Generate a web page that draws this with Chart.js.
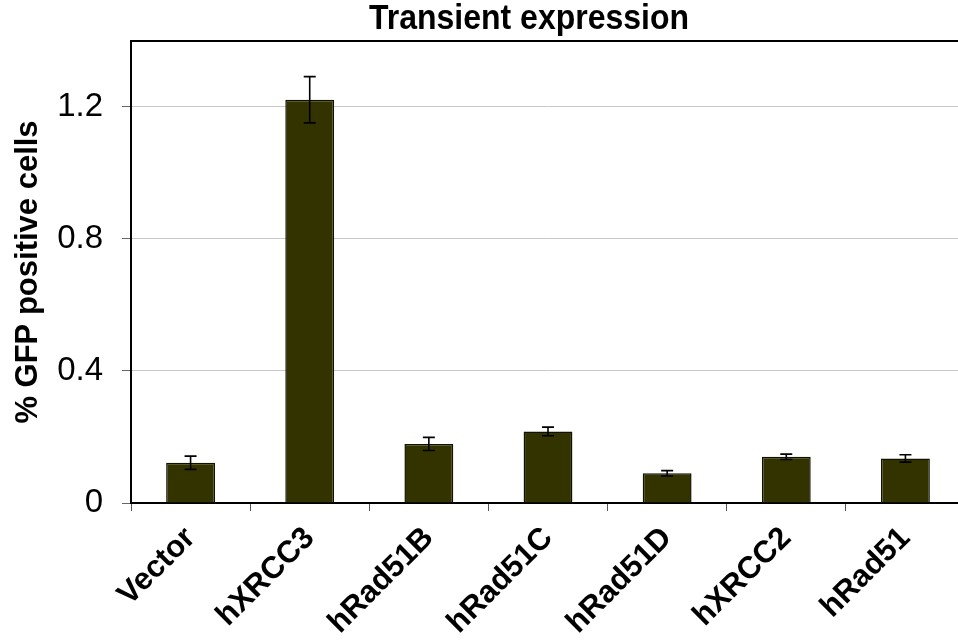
<!DOCTYPE html>
<html>
<head>
<meta charset="utf-8">
<script src="https://cdn.jsdelivr.net/npm/chart.js@4/dist/chart.umd.min.js"></script>
<style>
html,body{margin:0;padding:0;background:#fff;overflow:hidden;width:958px;height:641px;}
#wrap{width:966px;height:641px;}
</style>
</head>
<body>
<div id="wrap"><canvas id="c" width="966" height="641"></canvas></div>
<script>
const categories = ["Vector","hXRCC3","hRad51B","hRad51C","hRad51D","hXRCC2","hRad51"];
const gfpValues  = [0.122, 1.222, 0.179, 0.217, 0.090, 0.140, 0.135];
const gfpErrors  = [0.020, 0.070, 0.020, 0.013, 0.008, 0.008, 0.011];
const yTickValues = [0, 0.4, 0.8, 1.2];
const yTickLabels = ["0", "0.4", "0.8", "1.2"];
const chartTitle = "Transient expression";
const yAxisTitle = "% GFP positive cells";

const FONT = "'Liberation Sans', Arial, Helvetica, sans-serif";

const extrasPlugin = {
  id: 'extras',
  afterDatasetsDraw(chart) {
    const ctx = chart.ctx;
    const x = chart.scales.x, y = chart.scales.y;
    const area = chart.chartArea;
    ctx.save();
    // error bars
    ctx.strokeStyle = '#000';
    ctx.lineWidth = 1.6;
    gfpValues.forEach((v, i) => {
      const e = gfpErrors[i];
      const px = x.getPixelForValue(i);
      const yt = y.getPixelForValue(v + e);
      const yb = y.getPixelForValue(v - e);
      ctx.beginPath();
      ctx.moveTo(px, yt); ctx.lineTo(px, yb);
      ctx.moveTo(px - 6, yt); ctx.lineTo(px + 6, yt);
      ctx.moveTo(px - 6, yb); ctx.lineTo(px + 6, yb);
      ctx.stroke();
    });
    // top border
    ctx.lineWidth = 2;
    ctx.beginPath();
    ctx.moveTo(area.left - 1, area.top);
    ctx.lineTo(area.right + 2, area.top);
    ctx.stroke();
    // title (slightly taller glyphs, as in the reference)
    ctx.fillStyle = '#000';
    ctx.font = "bold 32px " + FONT;
    ctx.textAlign = 'center';
    ctx.textBaseline = 'alphabetic';
    ctx.translate(529, 28.5);
    ctx.scale(1, 1.1);
    ctx.fillText(chartTitle, 0, 0);
    ctx.restore();
  }
};

new Chart(document.getElementById('c'), {
  type: 'bar',
  data: {
    labels: categories,
    datasets: [{
      data: gfpValues,
      backgroundColor: '#333300',
      borderColor: '#111100',
      borderWidth: 1.5,
      categoryPercentage: 1.0,
      barPercentage: 0.41
    }]
  },
  options: {
    responsive: false,
    animation: false,
    devicePixelRatio: 1,
    layout: { padding: { top: 41, right: 1, left: 0, bottom: 0 } },
    plugins: {
      legend: { display: false },
      tooltip: { enabled: false },
      title: { display: false }
    },
    scales: {
      x: {
        afterFit(s) { s.height = 138; },
        border: { display: true, color: '#000', width: 2 },
        grid: { display: true, drawOnChartArea: false, drawTicks: true, tickLength: 8, color: '#555', offset: true },
        ticks: {
          minRotation: 45, maxRotation: 45, autoSkip: false,
          color: '#000', padding: 9,
          font: { family: FONT, size: 31, weight: 'bold' }
        }
      },
      y: {
        min: 0, max: 1.4,
        afterFit(s) { s.width = 131; },
        afterBuildTicks(s) { s.ticks = yTickValues.map(v => ({ value: v })); },
        border: { display: true, color: '#000', width: 2 },
        grid: {
          drawTicks: true, tickLength: 9,
          color: (c) => (c.tick && c.tick.value === 0) ? 'rgba(0,0,0,0)' : '#c8c8c8',
          tickColor: '#666', lineWidth: 1
        },
        ticks: {
          padding: 19, color: '#000',
          font: { family: FONT, size: 33 },
          callback: (v) => { const i = yTickValues.indexOf(v); return i >= 0 ? yTickLabels[i] : ''; }
        },
        title: {
          display: true, text: yAxisTitle, color: '#000',
          padding: { top: 10, bottom: 0 },
          font: { family: FONT, size: 31, weight: 'bold' }
        }
      }
    }
  },
  plugins: [extrasPlugin]
});
</script>
</body>
</html>
